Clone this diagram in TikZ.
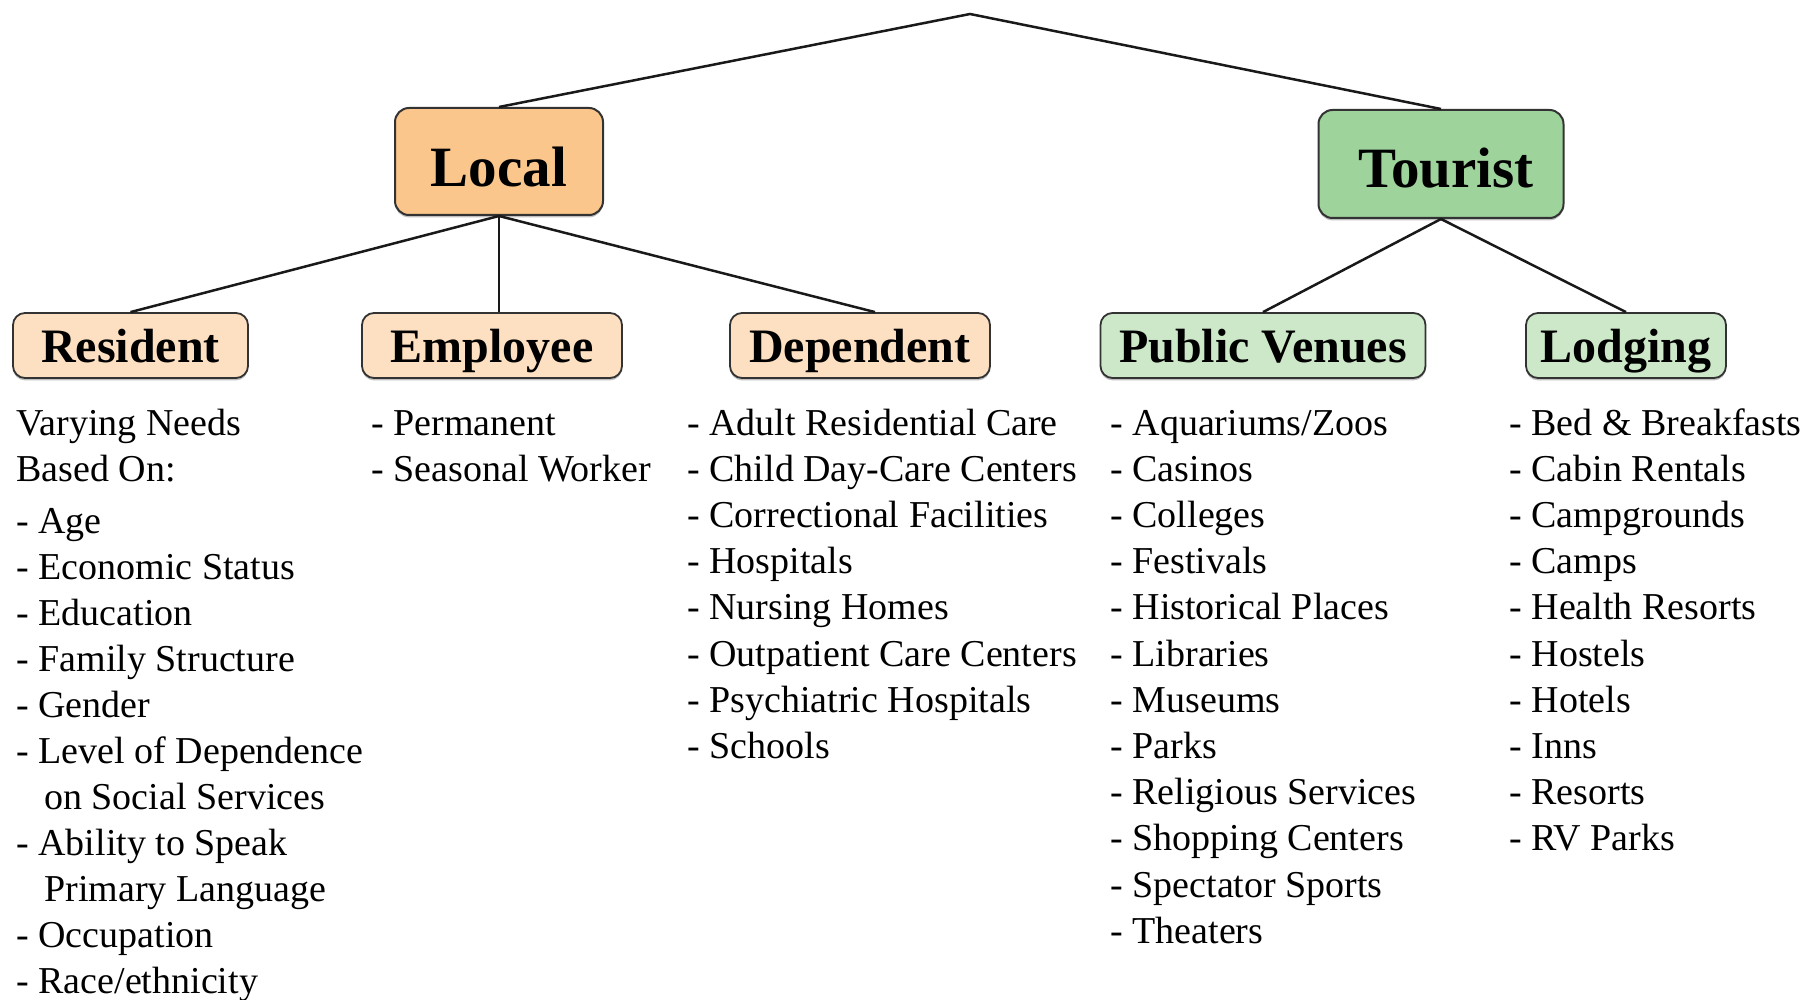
\documentclass[tikz,border=0pt]{standalone}
\usepackage{fontspec}
\setmainfont{Liberation Serif}
\usetikzlibrary{shadows}
\definecolor{localfill}{HTML}{FBC68B}
\definecolor{touristfill}{HTML}{9ED39C}
\definecolor{localsub}{HTML}{FDE0C1}
\definecolor{touristsub}{HTML}{CCE8C8}
\definecolor{boxline}{HTML}{333333}
\begin{document}
\begin{tikzpicture}[x=0.5pt,y=-0.5pt,
  conn/.style={line width=1.25pt, black!90},
  shade/.style={drop shadow={shadow xshift=0pt, shadow yshift=-1.2pt, fill=black, opacity=0.25}},
  topbox/.style={draw=boxline, line width=1pt, rounded corners=7pt, inner sep=0pt,
     font=\fontsize{28.5}{30}\selectfont\bfseries, shade},
  subbox/.style={draw=boxline, line width=0.9pt, rounded corners=6pt, inner sep=0pt,
     font=\fontsize{24}{26}\selectfont\bfseries, text height=25pt, text depth=7.5pt, shade},
  item/.style={anchor=base west, inner sep=0pt, font=\fontsize{19}{23}\selectfont}]
\useasboundingbox (0,0) rectangle (1816,1000);

\coordinate (apex) at (970,14);

% top level boxes
\node[topbox, fill=localfill, minimum width=104pt, text height=39.5pt, text depth=14pt]
  (local) at (499,161.5) {Local};
\node[topbox, fill=touristfill, minimum width=122.5pt, text height=39pt, text depth=15pt]
  (tourist) at (1441,164) {\hspace*{5pt}Tourist};

% second level boxes
\node[subbox, fill=localsub, minimum width=117.5pt] (resident) at (130.5,345.5) {Resident};
\node[subbox, fill=localsub, minimum width=130pt] (employee) at (492,345.5) {Employee};
\node[subbox, fill=localsub, minimum width=130pt] (dependent) at (860,345.5) {Dependent};
\node[subbox, fill=touristsub, minimum width=162.5pt] (venues) at (1263,345.5) {Public Venues};
\node[subbox, fill=touristsub, minimum width=100pt] (lodging) at (1626,345.5) {Lodging};

% connectors
\draw[conn] (local.north) -- (apex) -- (tourist.north);
\draw[conn] (local.south) -- (resident.north);
\draw[conn] (local.south) -- (local.south |- employee.north);
\draw[conn] (local.south) -- ([xshift=7.5pt]dependent.north);
\draw[conn] (tourist.south) -- (venues.north);
\draw[conn] (tourist.south) -- (lodging.north);

% Resident column
\node[item] (res-a) at (16,435) {Varying Needs};
\node[item] (res-b) at (16,481) {Based On:};
\foreach \t [count=\i from 0] in {- Age, - Economic Status, - Education, - Family Structure,
  - Gender, - Level of Dependence, \hspace*{14pt}on Social Services, - Ability to Speak,
  \hspace*{14pt}Primary Language, - Occupation, - Race/ethnicity}
  \node[item] (res-\i) at (16,{533+46*\i}) {\t};

% Employee column
\foreach \t [count=\i from 0] in {- Permanent, - Seasonal Worker}
  \node[item] (emp-\i) at (371,{435+46.2*\i}) {\t};

% Dependent column
\foreach \t [count=\i from 0] in {- Adult Residential Care, - Child Day-Care Centers,
  - Correctional Facilities, - Hospitals, - Nursing Homes, - Outpatient Care Centers,
  - Psychiatric Hospitals, - Schools}
  \node[item] (dep-\i) at (687,{435+46.2*\i}) {\t};

% Public venues column
\foreach \t [count=\i from 0] in {- Aquariums/Zoos, - Casinos, - Colleges, - Festivals,
  - Historical Places, - Libraries, - Museums, - Parks, - Religious Services,
  - Shopping Centers, - Spectator Sports, - Theaters}
  \node[item] (ven-\i) at (1110,{435+46.2*\i}) {\t};

% Lodging column
\foreach \t [count=\i from 0] in {- Bed \& Breakfasts, - Cabin Rentals, - Campgrounds,
  - Camps, - Health Resorts, - Hostels, - Hotels, - Inns, - Resorts, - RV Parks}
  \node[item] (lod-\i) at (1509,{435+46.2*\i}) {\t};
\end{tikzpicture}
\end{document}
